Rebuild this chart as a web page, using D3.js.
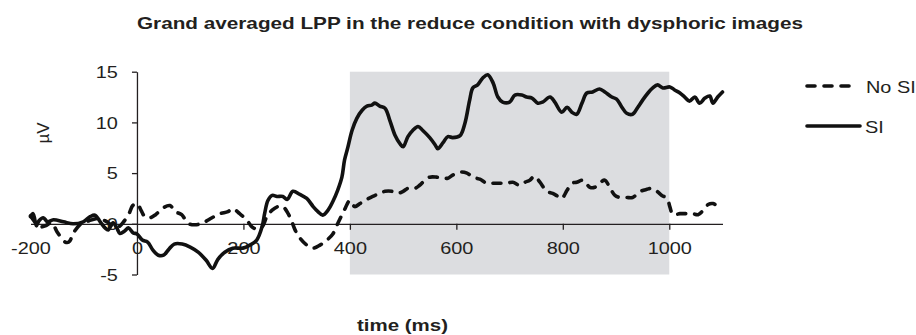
<!DOCTYPE html>
<html>
<head>
<meta charset="utf-8">
<script src="https://cdn.jsdelivr.net/npm/d3@7"></script>
<style>
  html, body { margin: 0; padding: 0; background: #fff; }
  svg { display: block; }
  text { font-family: "Liberation Sans", Arial, Helvetica, sans-serif; fill: #231f20; }
</style>
</head>
<body>
<svg id="chart" width="916" height="335"></svg>
<script>
// ---- Data ----
const title = "Grand averaged LPP in the reduce condition with dysphoric images";
const xLabel = "time (ms)";
const yLabel = "µV";
const seriesNames = ["No SI", "SI"];
const xTicks = [-200, 0, 200, 400, 600, 800, 1000];
const yTicks = [-5, 0, 5, 10, 15];
const shadeWindow = [400, 1000];

const siTime = [-200,-195,-189,-184,-176,-168,-157,-138,-120,-101,-88,-79,-69,-60,-54,-45,-38,-32,-23,-16,-7,
  0,10,20,30,40,50,60,70,85,100,115,130,142,152,165,180,199,212,225,235,240,246,254,263,274,282,293,306,319,331,
  340,349,359,368,377,385,390,396,404,413,423,432,441,447,456,466,475,485,494,500,509,518,528,537,550,560,565,
  575,584,593,607,616,625,631,640,650,659,669,678,687,700,710,723,732,742,753,762,776,785,798,808,817,826,836,
  845,856,869,879,892,901,911,920,931,941,950,960,969,978,988,1001,1010,1020,1029,1038,1048,1057,1067,1076,1082,1091,1100];
const siValues = [0.7,1.0,-0.2,0.3,0.6,0.2,0.4,0.2,0.0,0.2,0.7,0.85,0.2,-0.4,-0.6,0.1,-0.4,-0.95,-0.7,-0.4,-0.9,
  -1.0,-1.6,-1.8,-2.6,-3.1,-3.1,-2.5,-2.0,-2.0,-2.3,-2.8,-3.6,-4.4,-3.5,-2.8,-2.4,-2.4,-2.1,-1.6,-0.3,1.05,2.3,2.8,2.7,2.7,2.4,3.2,2.9,2.5,1.7,
  1.2,0.86,1.35,2.2,3.3,4.6,6.3,7.5,9.2,10.4,11.2,11.6,11.7,11.9,11.6,11.4,10.2,8.7,7.9,7.6,8.6,9.2,9.6,9.2,8.5,7.8,7.4,
  8.0,8.6,8.5,8.7,9.9,12.2,13.4,13.7,14.4,14.7,13.9,12.5,12.0,12.0,12.7,12.7,12.5,12.4,11.9,12.0,12.5,12.0,11.0,11.5,11.0,10.8,11.9,
  12.9,13.0,13.3,13.0,12.5,12.3,11.5,10.9,10.8,11.5,12.2,12.9,13.4,13.7,13.4,13.5,13.2,12.9,12.5,12.1,12.5,11.9,12.4,12.6,11.9,12.5,13.0];

const noSiTime = [-200,-192,-183,-172,-160,-150,-135,-128,-118,-105,-90,-75,-60,-45,-35,-25,-15,-8,-2,3,8,15,25,35,50,62,72,84,
  96,109,124,141,156,171,180,193,206,216,225,235,244,254,265,274,284,291,297,306,319,331,344,357,368,377,390,400,409,419,428,
  443,456,466,479,490,500,509,522,531,541,550,563,575,584,593,607,620,631,644,657,669,682,695,706,719,729,738,747,757,770,781,
  791,798,808,817,826,838,851,860,869,879,888,898,907,920,931,946,958,967,977,986,996,1001,1007,1020,1033,1044,1054,1064,1073,1082,1095];
const noSiValues = [0.8,0.2,-0.3,-0.2,0.1,-0.8,-1.8,-1.8,-0.8,0.0,0.3,0.5,0.3,-0.2,-0.3,0.2,1.0,1.8,2.0,1.8,1.3,0.7,0.6,0.9,1.6,1.8,1.2,0.9,
  0.05,-0.1,0.1,0.6,1.0,1.2,1.5,1.0,0.4,-0.3,-0.5,-0.3,0.7,1.35,1.7,1.7,1.0,0.2,-0.6,-1.4,-2.1,-2.4,-2.1,-1.6,-1.0,0.0,1.4,2.3,1.7,2.0,2.3,
  2.7,3.0,3.2,3.2,3.0,3.2,3.5,3.5,3.8,4.3,4.6,4.6,4.5,4.5,4.8,5.1,5.0,4.6,4.4,4.0,4.0,4.0,4.0,4.1,3.8,4.1,4.3,4.7,4.1,3.2,3.0,
  2.7,2.5,3.3,4.0,4.1,4.3,3.6,3.6,4.0,4.3,3.6,2.8,2.6,2.6,2.6,3.2,3.4,3.5,3.2,2.8,2.5,1.7,0.9,1.0,1.0,1.0,0.9,1.35,1.9,2.0,1.6];

// ---- Drawing ----
const svg = d3.select("#chart");
const SX = 1.17; // horizontal stretch of the reference's lettering
const ink = "#231f20";

const x = d3.scaleLinear().domain([-200, 1100]).range([30.5, 722.5]);
const y = d3.scaleLinear().domain([-5, 15]).range([274.5, 71.7]);

// shaded analysis window
svg.append("rect")
  .attr("x", x(shadeWindow[0])).attr("y", y(15))
  .attr("width", x(shadeWindow[1]) - x(shadeWindow[0]))
  .attr("height", y(-5) - y(15))
  .attr("fill", "#dcdde0");

// y axis at x = 0 ms
const yAxis = svg.append("g")
  .attr("transform", `translate(${x(0)},0)`)
  .call(d3.axisLeft(y).tickValues(yTicks).tickSize(5).tickSizeOuter(0).tickPadding(0));
yAxis.select(".domain").attr("stroke", ink).attr("stroke-width", 1.3);
yAxis.selectAll(".tick line").attr("stroke", ink).attr("stroke-width", 1.3);
yAxis.selectAll(".tick text")
  .attr("x", -16.3).attr("dy", "0.34em")
  .attr("transform", `scale(${SX},1)`)
  .style("font-size", "17px").attr("fill", ink)
  .text(d => String(d));

// x axis at 0 µV
const xAxis = svg.append("g")
  .attr("transform", `translate(0,${y(0)})`)
  .call(d3.axisBottom(x).tickValues(xTicks).tickSize(6).tickSizeOuter(0));
xAxis.select(".domain").attr("stroke", ink).attr("stroke-width", 1.3);
xAxis.selectAll(".tick line").attr("stroke", ink).attr("stroke-width", 1.3)
  .attr("opacity", d => (d === -200 || d === 0) ? 0 : 1);
xAxis.selectAll(".tick text")
  .attr("y", 18).attr("dy", "0.71em")
  .attr("transform", `scale(${SX},1)`)
  .style("font-size", "17px").attr("fill", ink)
  .text(d => String(d));

// lines
const line = d3.line().x(d => x(d[0])).y(d => y(d[1])).curve(d3.curveCatmullRom.alpha(0.5));
const noSi = noSiTime.map((t, i) => [t, noSiValues[i]]);
const si = siTime.map((t, i) => [t, siValues[i]]);

svg.append("path").datum(noSi).attr("d", line)
  .attr("fill", "none").attr("stroke", "#111").attr("stroke-width", 3.6)
  .attr("stroke-dasharray", "8,9").attr("stroke-linecap", "round").attr("stroke-linejoin", "round");
svg.append("path").datum(si).attr("d", line)
  .attr("fill", "none").attr("stroke", "#111").attr("stroke-width", 3.6)
  .attr("stroke-linecap", "round").attr("stroke-linejoin", "round");

// title
svg.append("text").attr("x", 137).attr("y", 29)
  .attr("textLength", 666).attr("lengthAdjust", "spacingAndGlyphs")
  .style("font-size", "17px").style("font-weight", "bold").text(title);

// x label
svg.append("text").attr("x", 357).attr("y", 331)
  .attr("textLength", 91).attr("lengthAdjust", "spacingAndGlyphs")
  .style("font-size", "17px").style("font-weight", "bold").text(xLabel);

// y label
svg.append("text")
  .attr("transform", `translate(49,133) rotate(-90)`)
  .attr("text-anchor", "middle")
  .style("font-size", "17px").text(yLabel);

// legend
const legend = svg.append("g");
const legendY = [86, 126];
legend.selectAll("line").data(seriesNames).join("line")
  .attr("x1", 807).attr("x2", (d, i) => i === 0 ? 853 : 860)
  .attr("y1", (d, i) => legendY[i]).attr("y2", (d, i) => legendY[i])
  .attr("stroke", "#111").attr("stroke-width", 3.6).attr("stroke-linecap", "round")
  .attr("stroke-dasharray", (d, i) => i === 0 ? "8,9" : null);
legend.selectAll("text").data(seriesNames).join("text")
  .attr("transform", (d, i) => `translate(${i === 0 ? 866 : 865},${legendY[i] + 6.5}) scale(${SX},1)`)
  .style("font-size", "17px").text(d => d);
</script>
</body>
</html>
